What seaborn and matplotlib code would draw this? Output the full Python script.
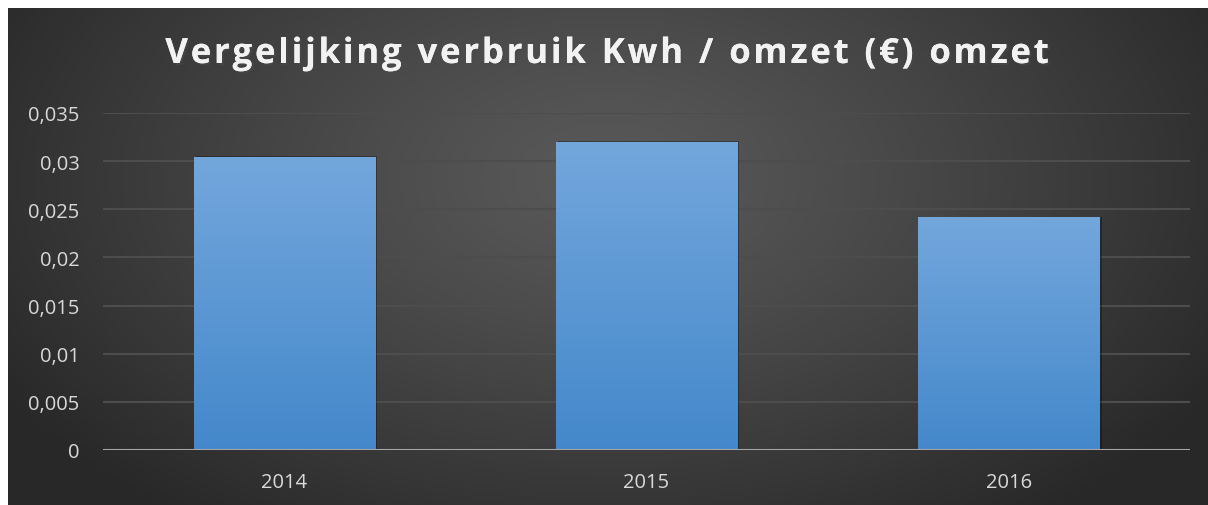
import numpy as np
import pandas as pd
import matplotlib
matplotlib.use("Agg")
import matplotlib.pyplot as plt
import matplotlib.patheffects as pe
from matplotlib.ticker import FuncFormatter, MultipleLocator
import seaborn as sns

# data
years = ["2014", "2015", "2016"]
ratio = [0.0304, 0.0319, 0.0241]
title = "Vergelijking verbruik Kwh / omzet (€) omzet"

df = pd.DataFrame({"Jaar": years, "Ratio": ratio})

sns.set_style("dark")
plt.rcParams["font.family"] = ["Open Sans", "DejaVu Sans"]

fig = plt.figure(figsize=(12.08, 5.06), dpi=100)
fig.patch.set_facecolor("white")

# dark radial background
bg = fig.add_axes([8 / 1208, 0, 1200 / 1208, 497 / 506])
yy, xx = np.mgrid[0:497, 0:1200]
dist = np.sqrt(((xx - 600) / 700.0) ** 2 + ((yy - 170) / 420.0) ** 2)
dist = np.clip(dist, 0, 1)
light = 0.35 - 0.19 * dist ** 1.2
bg.imshow(np.dstack([light] * 3), aspect="auto", extent=[0, 1, 0, 1], origin="upper")
bg.axis("off")

ax = fig.add_axes([103 / 1208, 55 / 506, 1087 / 1208, 337 / 506])
ax.set_facecolor("none")

sns.barplot(data=df, x="Jaar", y="Ratio", ax=ax, width=0.5, color="#5b9bd5")

# gradient bars
grad = np.linspace(0, 1, 256).reshape(-1, 1)
top_c = np.array([0x73, 0xa7, 0xdc]) / 255
bot_c = np.array([0x44, 0x88, 0xcb]) / 255
for p in ax.patches:
    x0, y0 = p.get_x(), p.get_y()
    w, h = p.get_width(), p.get_height()
    img = top_c + (bot_c - top_c) * grad[..., None]
    shadow = plt.Rectangle((x0 + 0.006, y0), w, h + 0.00015, color="black",
                           alpha=0.3, zorder=1.5, lw=0)
    ax.add_patch(shadow)
    ax.imshow(img, extent=[x0, x0 + w, y0, y0 + h], aspect="auto",
              origin="upper", zorder=2)
    p.set_facecolor("none")
    p.set_edgecolor("none")
ax.set_xlim(-0.5, 2.5)
ax.set_ylim(0, 0.035)

ax.yaxis.set_major_locator(MultipleLocator(0.005))
ax.yaxis.set_major_formatter(FuncFormatter(lambda v, pos: "{:g}".format(round(v, 4)).replace(".", ",")))
ax.grid(axis="y", color="#4d4d4d", linewidth=1.5, zorder=0)
ax.grid(axis="x", visible=False)
ax.set_axisbelow(True)
ax.axhline(0, color="#a6a6a6", linewidth=2.2, zorder=3)

for s in ax.spines.values():
    s.set_visible(False)
ax.tick_params(axis="both", length=0, labelsize=14.5, labelcolor="#d9d9d9")
ax.tick_params(axis="y", pad=17)
ax.tick_params(axis="x", pad=16)
ax.set_xlabel("")
ax.set_ylabel("")

# title with letter spacing, drawn char by char
renderer = fig.canvas.get_renderer()
tracking = 2.8  # px between letters
fsize = 25
widths = []
for ch in title:
    t = fig.text(0, 0, ch if ch != " " else "n", fontsize=fsize, fontweight="bold")
    wpx = t.get_window_extent(renderer).width
    if ch == " ":
        wpx *= 0.45
    widths.append(wpx)
    t.remove()
total = sum(widths) + tracking * (len(title) - 1)
xpos = 607 - total / 2
for ch, wpx in zip(title, widths):
    if ch != " ":
        fig.text(xpos / 1208, 1 - 55 / 506, ch, ha="left", va="center",
                 fontsize=fsize, fontweight="bold", color="#f2f2f2",
                 path_effects=[pe.withSimplePatchShadow(offset=(1.5, -1.5), alpha=0.6), pe.Normal()])
    xpos += wpx + tracking

plt.savefig("out.png", dpi=100, facecolor=fig.get_facecolor())
